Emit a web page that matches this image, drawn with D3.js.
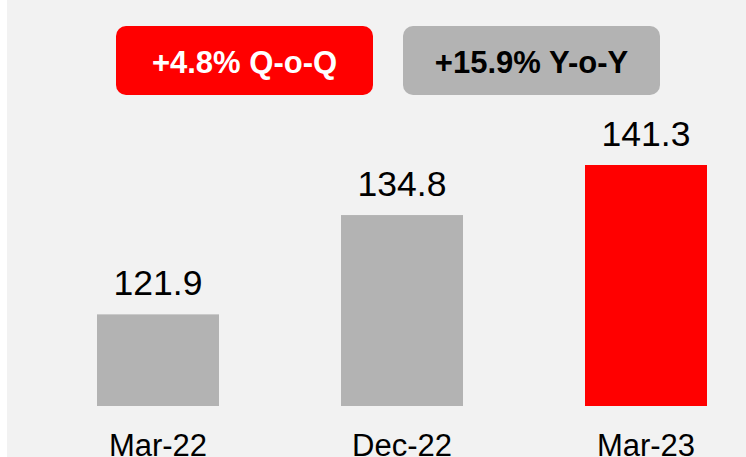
<!DOCTYPE html>
<html>
<head>
<meta charset="utf-8">
<script src="https://cdn.jsdelivr.net/npm/d3@7"></script>
<style>
  html, body { margin: 0; padding: 0; background: #ffffff; }
  svg { display: block; }
</style>
</head>
<body>
<script>
// Quarterly values
const categories = ["Mar-22", "Dec-22", "Mar-23"];
const values = [121.9, 134.8, 141.3];
const barColors = ["#b3b3b3", "#b3b3b3", "#ff0000"];

// Growth badges
const badgeLabels = ["+4.8% Q-o-Q", "+15.9% Y-o-Y"];
const badgeFills = ["#ff0000", "#b3b3b3"];
const badgeTextColors = ["#ffffff", "#000000"];

const W = 746, H = 457;
const svg = d3.select("body").append("svg")
  .attr("width", W).attr("height", H);

// Panel background
svg.append("rect")
  .attr("x", 7).attr("y", 0)
  .attr("width", W - 7).attr("height", H)
  .attr("fill", "#f2f2f2");

const font = "'Liberation Sans', Arial, Helvetica, sans-serif";

const x = d3.scaleBand()
  .domain(categories)
  .range([36, 768])
  .paddingInner(0.5)
  .paddingOuter(0.25);

const y = d3.scaleLinear()
  .domain([110, 141.3])
  .range([406, 165]);

// Bars
svg.selectAll("rect.bar")
  .data(values)
  .join("rect")
  .attr("class", "bar")
  .attr("x", (d, i) => x(categories[i]))
  .attr("y", d => y(d))
  .attr("width", x.bandwidth())
  .attr("height", d => y.range()[0] - y(d))
  .attr("fill", (d, i) => barColors[i]);

// Value labels
svg.selectAll("text.value")
  .data(values)
  .join("text")
  .attr("class", "value")
  .attr("x", (d, i) => x(categories[i]) + x.bandwidth() / 2)
  .attr("y", d => y(d) - 19)
  .attr("text-anchor", "middle")
  .attr("font-family", font)
  .attr("font-size", 35.5)
  .attr("fill", "#000")
  .text(d => d.toFixed(1));

// Category axis (labels only)
const axis = svg.append("g")
  .attr("transform", `translate(0,${y.range()[0]})`)
  .call(d3.axisBottom(x).tickSize(0).tickPadding(0));
axis.select(".domain").remove();
axis.selectAll("text")
  .attr("y", 50)
  .attr("dy", 0)
  .attr("font-family", font)
  .attr("font-size", 31)
  .attr("fill", "#000");

// Badges
const badgeX = [116, 403];
const badgeW = 257, badgeH = 69, badgeY = 26;
const badges = svg.selectAll("g.badge")
  .data(badgeLabels)
  .join("g")
  .attr("class", "badge")
  .attr("transform", (d, i) => `translate(${badgeX[i]},${badgeY})`);
badges.append("rect")
  .attr("width", badgeW).attr("height", badgeH)
  .attr("rx", 10).attr("ry", 10)
  .attr("fill", (d, i) => badgeFills[i]);
badges.append("text")
  .attr("x", badgeW / 2)
  .attr("y", 47)
  .attr("text-anchor", "middle")
  .attr("font-family", font)
  .attr("font-weight", "bold")
  .attr("font-size", 31)
  .attr("fill", (d, i) => badgeTextColors[i])
  .text(d => d);
</script>
</body>
</html>
